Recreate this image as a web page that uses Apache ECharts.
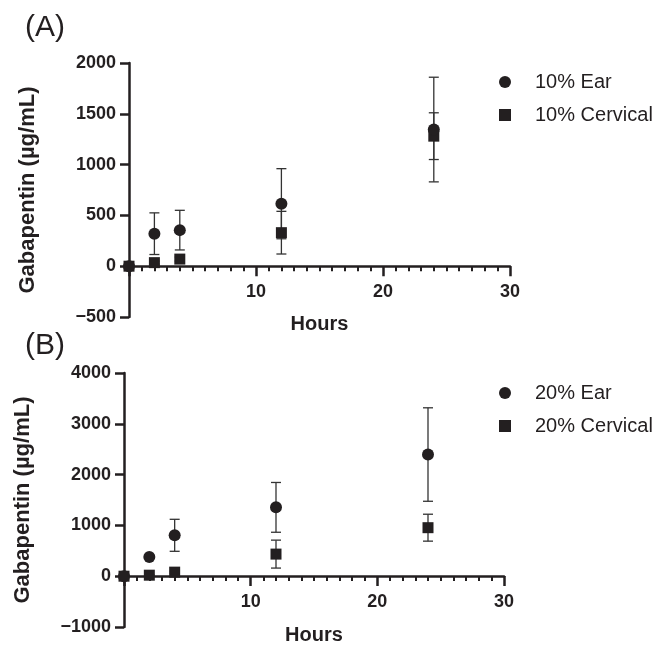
<!DOCTYPE html>
<html>
<head>
<meta charset="utf-8">
<script src="https://cdn.jsdelivr.net/npm/echarts@6/dist/echarts.min.js"></script>
<style>
  html, body { margin: 0; padding: 0; background: #fff; }
  #chart { width: 670px; height: 646px; }
</style>
</head>
<body>
<div id="chart"></div>
<script>
// sampling times (hours)
var hours = [0, 2, 4, 12, 24];

// panel A, 10% gel
var ear10 = [0, 320, 355, 615, 1345];
var ear10Err = [0, 205, 195, 345, 515];
var cerv10 = [0, 35, 70, 330, 1280];
var cerv10Err = [0, 15, 20, 210, 230];

// panel B, 20% gel
var ear20 = [0, 380, 805, 1355, 2395];
var ear20Err = [0, 30, 315, 490, 920];
var cerv20 = [0, 20, 80, 435, 955];
var cerv20Err = [0, 10, 20, 275, 265];

// y ranges
var yRangeA = [-500, 2000, 500];
var yRangeB = [-1000, 4000, 1000];

var ink = '#231f20';
var font = 'Liberation Sans, Arial, Helvetica, sans-serif';

var gridA = { left: 129, width: 381, top: 63, height: 254 };
var gridB = { left: 124, width: 380, top: 373, height: 255 };

function pts(ys) {
  return hours.map(function (h, i) { return [h, ys[i]]; });
}
function bars(ys, err) {
  return hours.map(function (h, i) { return [h, ys[i] - err[i], ys[i] + err[i]]; });
}

function errorBars(ys, err, idx, z) {
  return {
    type: 'custom',
    xAxisIndex: idx, yAxisIndex: idx,
    z: z,
    silent: true,
    data: bars(ys, err),
    encode: { x: 0, y: [1, 2] },
    renderItem: function (params, api) {
      var lo = api.coord([api.value(0), api.value(1)]);
      var hi = api.coord([api.value(0), api.value(2)]);
      var w = 5;
      var st = { stroke: '#333', lineWidth: 1.3 };
      return {
        type: 'group',
        children: [
          { type: 'line', shape: { x1: lo[0], y1: lo[1], x2: hi[0], y2: hi[1] }, style: st },
          { type: 'line', shape: { x1: lo[0] - w, y1: lo[1], x2: lo[0] + w, y2: lo[1] }, style: st },
          { type: 'line', shape: { x1: hi[0] - w, y1: hi[1], x2: hi[0] + w, y2: hi[1] }, style: st }
        ]
      };
    }
  };
}

// x axis drawn at y = 0: shift it up from the grid bottom
function xAx(idx, grid, yr, gap) {
  var shift = grid.height * (0 - yr[0]) / (yr[1] - yr[0]);
  return {
    type: 'value', gridIndex: idx, min: 0, max: 30, interval: 10,
    position: 'bottom', offset: -shift,
    name: 'Hours', nameLocation: 'middle', nameGap: gap,
    nameTextStyle: { fontFamily: font, fontWeight: 'bold', fontSize: 20, color: ink },
    axisLine: { onZero: false, lineStyle: { color: ink, width: 2.5 } },
    axisTick: { length: 10, lineStyle: { color: ink, width: 2.5 } },
    minorTick: { show: true, splitNumber: 10, length: 5, lineStyle: { color: ink, width: 2 } },
    splitLine: { show: false },
    minorSplitLine: { show: false },
    axisLabel: {
      margin: 17, fontFamily: font, fontWeight: 'bold', fontSize: 18, color: ink,
      formatter: function (v) { return v === 0 ? '' : v; }
    }
  };
}

function yAx(idx, yr) {
  return {
    type: 'value', gridIndex: idx, min: yr[0], max: yr[1], interval: yr[2],
    name: 'Gabapentin (µg/mL)', nameLocation: 'middle', nameGap: 90,
    nameTextStyle: { fontFamily: font, fontWeight: 'bold', fontSize: 22, color: ink },
    axisLine: { show: true, onZero: false, lineStyle: { color: ink, width: 2.5 } },
    axisTick: { show: true, length: 9, lineStyle: { color: ink, width: 2.5 } },
    splitLine: { show: false },
    axisLabel: {
      margin: 13, fontFamily: font, fontWeight: 'bold', fontSize: 18, color: ink,
      formatter: function (v) { return v < 0 ? '\u2212' + (-v) : v; }
    }
  };
}

function legend(top, names) {
  return {
    left: 494, top: top, orient: 'vertical', itemGap: 11,
    itemWidth: 12, itemHeight: 12,
    textStyle: { fontFamily: font, fontSize: 20, color: ink, lineHeight: 22, padding: [0, 0, 0, 19] },
    data: [{ name: names[0], icon: 'circle' }, { name: names[1], icon: 'rect' }]
  };
}

var chart = echarts.init(document.getElementById('chart'));
chart.setOption({
  animation: false,
  backgroundColor: '#fff',
  title: [
    { text: '(A)', left: 20, top: 8, textStyle: { fontFamily: font, fontWeight: 'normal', fontSize: 30, color: ink } },
    { text: '(B)', left: 20, top: 326, textStyle: { fontFamily: font, fontWeight: 'normal', fontSize: 30, color: ink } }
  ],
  legend: [legend(66, ['10% Ear', '10% Cervical']), legend(377, ['20% Ear', '20% Cervical'])],
  grid: [gridA, gridB],
  xAxis: [xAx(0, gridA, yRangeA, 48), xAx(1, gridB, yRangeB, 49)],
  yAxis: [yAx(0, yRangeA), yAx(1, yRangeB)],
  series: [
    errorBars(ear10, ear10Err, 0, 2),
    errorBars(cerv10, cerv10Err, 0, 2),
    { name: '10% Cervical', type: 'scatter', xAxisIndex: 0, yAxisIndex: 0, z: 3, symbol: 'rect', symbolSize: 11, itemStyle: { color: ink, opacity: 1 }, data: pts(cerv10) },
    { name: '10% Ear', type: 'scatter', xAxisIndex: 0, yAxisIndex: 0, z: 4, symbol: 'circle', symbolSize: 12, itemStyle: { color: ink, opacity: 1 }, data: pts(ear10) },
    errorBars(ear20, ear20Err, 1, 2),
    errorBars(cerv20, cerv20Err, 1, 2),
    { name: '20% Ear', type: 'scatter', xAxisIndex: 1, yAxisIndex: 1, z: 3, symbol: 'circle', symbolSize: 12, itemStyle: { color: ink, opacity: 1 }, data: pts(ear20) },
    { name: '20% Cervical', type: 'scatter', xAxisIndex: 1, yAxisIndex: 1, z: 4, symbol: 'rect', symbolSize: 11, itemStyle: { color: ink, opacity: 1 }, data: pts(cerv20) }
  ]
});
</script>
</body>
</html>
